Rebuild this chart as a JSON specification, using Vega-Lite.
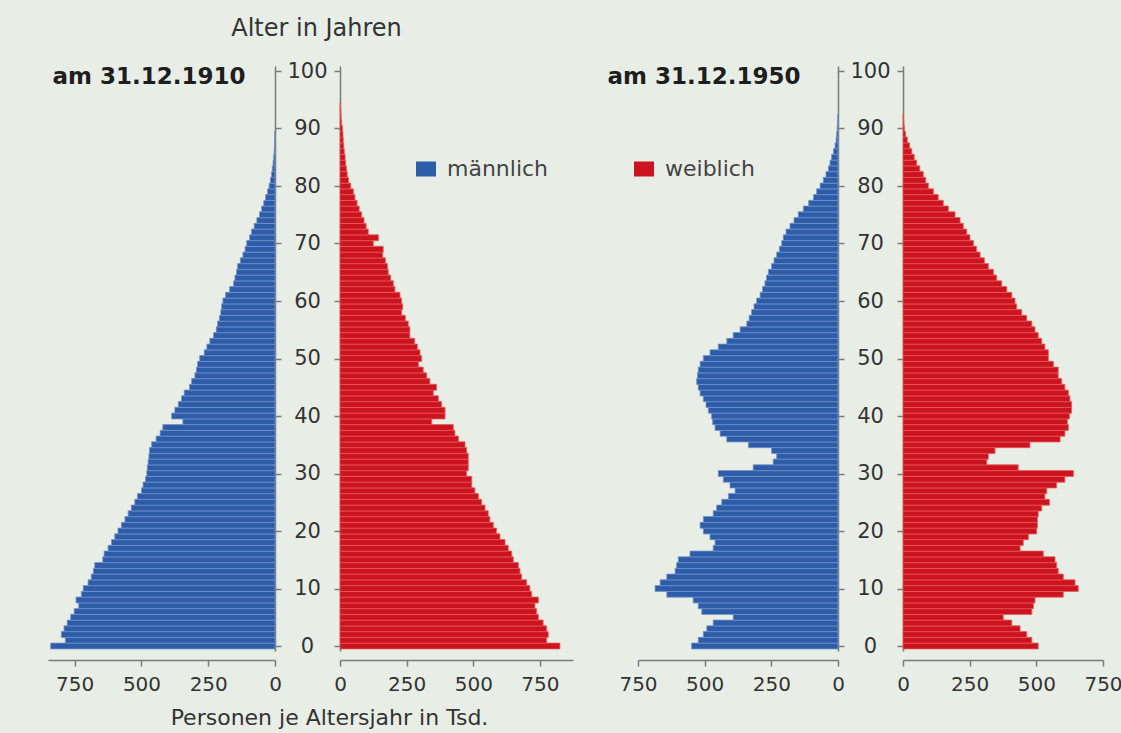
{
  "$schema": "https://vega.github.io/schema/vega-lite/v6.json",
  "background": "#e8eee6",
  "padding": {"left": 48, "top": 16, "right": 0, "bottom": 5},
  "config": {
    "font": "DejaVu Sans",
    "view": {"stroke": null},
    "axis": {"grid": false, "labelFlush": false, "labelOverlap": false, "domainColor": "#7a7a7a", "tickColor": "#7a7a7a", "domainWidth": 1.5, "tickWidth": 1.5, "labelColor": "#333333", "labelFont": "DejaVu Sans", "titleFont": "DejaVu Sans", "labelFontSize": 20},
    "legend": {"orient": "none", "legendX": 367, "legendY": 92, "direction": "horizontal", "symbolType": "M-1,-0.75H1V0.75H-1Z", "symbolSize": 400, "symbolStrokeWidth": 0, "labelFontSize": 22, "labelColor": "#444444", "labelFont": "DejaVu Sans", "labelOffset": 10, "columnPadding": 84, "padding": 0}
  },
  "datasets": {
    "m1910": [
      {"alter":0,"tsd":840},{"alter":1,"tsd":785},{"alter":2,"tsd":800},{"alter":3,"tsd":790},{"alter":4,"tsd":778},{"alter":5,"tsd":765},{"alter":6,"tsd":752},{"alter":7,"tsd":735},{"alter":8,"tsd":745},{"alter":9,"tsd":725},
      {"alter":10,"tsd":718},{"alter":11,"tsd":700},{"alter":12,"tsd":688},{"alter":13,"tsd":680},{"alter":14,"tsd":675},{"alter":15,"tsd":645},{"alter":16,"tsd":640},{"alter":17,"tsd":625},{"alter":18,"tsd":612},{"alter":19,"tsd":600},
      {"alter":20,"tsd":588},{"alter":21,"tsd":575},{"alter":22,"tsd":562},{"alter":23,"tsd":550},{"alter":24,"tsd":538},{"alter":25,"tsd":525},{"alter":26,"tsd":515},{"alter":27,"tsd":500},{"alter":28,"tsd":494},{"alter":29,"tsd":485},
      {"alter":30,"tsd":480},{"alter":31,"tsd":478},{"alter":32,"tsd":475},{"alter":33,"tsd":472},{"alter":34,"tsd":470},{"alter":35,"tsd":462},{"alter":36,"tsd":445},{"alter":37,"tsd":430},{"alter":38,"tsd":420},{"alter":39,"tsd":345},
      {"alter":40,"tsd":387},{"alter":41,"tsd":375},{"alter":42,"tsd":362},{"alter":43,"tsd":350},{"alter":44,"tsd":340},{"alter":45,"tsd":320},{"alter":46,"tsd":312},{"alter":47,"tsd":300},{"alter":48,"tsd":294},{"alter":49,"tsd":290},
      {"alter":50,"tsd":282},{"alter":51,"tsd":265},{"alter":52,"tsd":255},{"alter":53,"tsd":244},{"alter":54,"tsd":230},{"alter":55,"tsd":220},{"alter":56,"tsd":215},{"alter":57,"tsd":208},{"alter":58,"tsd":203},{"alter":59,"tsd":200},
      {"alter":60,"tsd":195},{"alter":61,"tsd":185},{"alter":62,"tsd":170},{"alter":63,"tsd":155},{"alter":64,"tsd":150},{"alter":65,"tsd":144},{"alter":66,"tsd":140},{"alter":67,"tsd":130},{"alter":68,"tsd":120},{"alter":69,"tsd":112},
      {"alter":70,"tsd":106},{"alter":71,"tsd":95},{"alter":72,"tsd":88},{"alter":73,"tsd":78},{"alter":74,"tsd":68},{"alter":75,"tsd":58},{"alter":76,"tsd":50},{"alter":77,"tsd":42},{"alter":78,"tsd":35},{"alter":79,"tsd":28},
      {"alter":80,"tsd":22},{"alter":81,"tsd":17},{"alter":82,"tsd":13},{"alter":83,"tsd":10},{"alter":84,"tsd":7},{"alter":85,"tsd":5},{"alter":86,"tsd":3},{"alter":87,"tsd":2},{"alter":88,"tsd":1},{"alter":89,"tsd":1}
    ],
    "w1910": [
      {"alter":0,"tsd":825},{"alter":1,"tsd":775},{"alter":2,"tsd":781},{"alter":3,"tsd":775},{"alter":4,"tsd":762},{"alter":5,"tsd":744},{"alter":6,"tsd":737},{"alter":7,"tsd":731},{"alter":8,"tsd":744},{"alter":9,"tsd":719},
      {"alter":10,"tsd":712},{"alter":11,"tsd":700},{"alter":12,"tsd":681},{"alter":13,"tsd":675},{"alter":14,"tsd":669},{"alter":15,"tsd":650},{"alter":16,"tsd":644},{"alter":17,"tsd":631},{"alter":18,"tsd":619},{"alter":19,"tsd":600},
      {"alter":20,"tsd":587},{"alter":21,"tsd":575},{"alter":22,"tsd":562},{"alter":23,"tsd":556},{"alter":24,"tsd":544},{"alter":25,"tsd":531},{"alter":26,"tsd":519},{"alter":27,"tsd":506},{"alter":28,"tsd":494},{"alter":29,"tsd":494},
      {"alter":30,"tsd":475},{"alter":31,"tsd":481},{"alter":32,"tsd":481},{"alter":33,"tsd":481},{"alter":34,"tsd":475},{"alter":35,"tsd":469},{"alter":36,"tsd":444},{"alter":37,"tsd":431},{"alter":38,"tsd":425},{"alter":39,"tsd":344},
      {"alter":40,"tsd":394},{"alter":41,"tsd":394},{"alter":42,"tsd":381},{"alter":43,"tsd":369},{"alter":44,"tsd":350},{"alter":45,"tsd":362},{"alter":46,"tsd":337},{"alter":47,"tsd":325},{"alter":48,"tsd":312},{"alter":49,"tsd":294},
      {"alter":50,"tsd":306},{"alter":51,"tsd":300},{"alter":52,"tsd":290},{"alter":53,"tsd":280},{"alter":54,"tsd":262},{"alter":55,"tsd":262},{"alter":56,"tsd":256},{"alter":57,"tsd":245},{"alter":58,"tsd":231},{"alter":59,"tsd":235},
      {"alter":60,"tsd":231},{"alter":61,"tsd":225},{"alter":62,"tsd":206},{"alter":63,"tsd":200},{"alter":64,"tsd":190},{"alter":65,"tsd":181},{"alter":66,"tsd":178},{"alter":67,"tsd":170},{"alter":68,"tsd":160},{"alter":69,"tsd":162},
      {"alter":70,"tsd":125},{"alter":71,"tsd":144},{"alter":72,"tsd":106},{"alter":73,"tsd":98},{"alter":74,"tsd":90},{"alter":75,"tsd":81},{"alter":76,"tsd":72},{"alter":77,"tsd":64},{"alter":78,"tsd":56},{"alter":79,"tsd":50},
      {"alter":80,"tsd":40},{"alter":81,"tsd":32},{"alter":82,"tsd":27},{"alter":83,"tsd":24},{"alter":84,"tsd":21},{"alter":85,"tsd":19},{"alter":86,"tsd":16},{"alter":87,"tsd":14},{"alter":88,"tsd":12},{"alter":89,"tsd":11},
      {"alter":90,"tsd":9},{"alter":91,"tsd":6},{"alter":92,"tsd":4},{"alter":93,"tsd":3},{"alter":94,"tsd":2}
    ],
    "m1950": [
      {"alter":0,"tsd":549},{"alter":1,"tsd":524},{"alter":2,"tsd":505},{"alter":3,"tsd":492},{"alter":4,"tsd":468},{"alter":5,"tsd":393},{"alter":6,"tsd":511},{"alter":7,"tsd":524},{"alter":8,"tsd":543},{"alter":9,"tsd":642},
      {"alter":10,"tsd":686},{"alter":11,"tsd":667},{"alter":12,"tsd":642},{"alter":13,"tsd":611},{"alter":14,"tsd":605},{"alter":15,"tsd":599},{"alter":16,"tsd":555},{"alter":17,"tsd":468},{"alter":18,"tsd":461},{"alter":19,"tsd":480},
      {"alter":20,"tsd":505},{"alter":21,"tsd":517},{"alter":22,"tsd":505},{"alter":23,"tsd":468},{"alter":24,"tsd":455},{"alter":25,"tsd":436},{"alter":26,"tsd":411},{"alter":27,"tsd":386},{"alter":28,"tsd":405},{"alter":29,"tsd":430},
      {"alter":30,"tsd":449},{"alter":31,"tsd":318},{"alter":32,"tsd":243},{"alter":33,"tsd":230},{"alter":34,"tsd":249},{"alter":35,"tsd":336},{"alter":36,"tsd":417},{"alter":37,"tsd":442},{"alter":38,"tsd":461},{"alter":39,"tsd":470},
      {"alter":40,"tsd":474},{"alter":41,"tsd":486},{"alter":42,"tsd":495},{"alter":43,"tsd":505},{"alter":44,"tsd":517},{"alter":45,"tsd":524},{"alter":46,"tsd":530},{"alter":47,"tsd":527},{"alter":48,"tsd":524},{"alter":49,"tsd":517},
      {"alter":50,"tsd":505},{"alter":51,"tsd":480},{"alter":52,"tsd":449},{"alter":53,"tsd":417},{"alter":54,"tsd":393},{"alter":55,"tsd":367},{"alter":56,"tsd":342},{"alter":57,"tsd":333},{"alter":58,"tsd":324},{"alter":59,"tsd":315},
      {"alter":60,"tsd":305},{"alter":61,"tsd":292},{"alter":62,"tsd":283},{"alter":63,"tsd":274},{"alter":64,"tsd":268},{"alter":65,"tsd":261},{"alter":66,"tsd":249},{"alter":67,"tsd":240},{"alter":68,"tsd":230},{"alter":69,"tsd":220},
      {"alter":70,"tsd":211},{"alter":71,"tsd":205},{"alter":72,"tsd":195},{"alter":73,"tsd":180},{"alter":74,"tsd":165},{"alter":75,"tsd":149},{"alter":76,"tsd":130},{"alter":77,"tsd":110},{"alter":78,"tsd":92},{"alter":79,"tsd":80},
      {"alter":80,"tsd":67},{"alter":81,"tsd":55},{"alter":82,"tsd":45},{"alter":83,"tsd":36},{"alter":84,"tsd":30},{"alter":85,"tsd":24},{"alter":86,"tsd":17},{"alter":87,"tsd":11},{"alter":88,"tsd":7},{"alter":89,"tsd":5},
      {"alter":90,"tsd":3},{"alter":91,"tsd":2},{"alter":92,"tsd":1}
    ],
    "w1950": [
      {"alter":0,"tsd":507},{"alter":1,"tsd":483},{"alter":2,"tsd":464},{"alter":3,"tsd":439},{"alter":4,"tsd":408},{"alter":5,"tsd":376},{"alter":6,"tsd":483},{"alter":7,"tsd":489},{"alter":8,"tsd":495},{"alter":9,"tsd":601},
      {"alter":10,"tsd":657},{"alter":11,"tsd":645},{"alter":12,"tsd":601},{"alter":13,"tsd":582},{"alter":14,"tsd":576},{"alter":15,"tsd":570},{"alter":16,"tsd":526},{"alter":17,"tsd":439},{"alter":18,"tsd":451},{"alter":19,"tsd":470},
      {"alter":20,"tsd":501},{"alter":21,"tsd":504},{"alter":22,"tsd":504},{"alter":23,"tsd":507},{"alter":24,"tsd":520},{"alter":25,"tsd":549},{"alter":26,"tsd":532},{"alter":27,"tsd":539},{"alter":28,"tsd":576},{"alter":29,"tsd":607},
      {"alter":30,"tsd":639},{"alter":31,"tsd":432},{"alter":32,"tsd":314},{"alter":33,"tsd":320},{"alter":34,"tsd":345},{"alter":35,"tsd":476},{"alter":36,"tsd":589},{"alter":37,"tsd":607},{"alter":38,"tsd":620},{"alter":39,"tsd":616},
      {"alter":40,"tsd":624},{"alter":41,"tsd":632},{"alter":42,"tsd":632},{"alter":43,"tsd":626},{"alter":44,"tsd":620},{"alter":45,"tsd":607},{"alter":46,"tsd":595},{"alter":47,"tsd":582},{"alter":48,"tsd":582},{"alter":49,"tsd":564},
      {"alter":50,"tsd":545},{"alter":51,"tsd":545},{"alter":52,"tsd":532},{"alter":53,"tsd":520},{"alter":54,"tsd":507},{"alter":55,"tsd":495},{"alter":56,"tsd":483},{"alter":57,"tsd":464},{"alter":58,"tsd":445},{"alter":59,"tsd":426},
      {"alter":60,"tsd":420},{"alter":61,"tsd":408},{"alter":62,"tsd":389},{"alter":63,"tsd":370},{"alter":64,"tsd":351},{"alter":65,"tsd":339},{"alter":66,"tsd":320},{"alter":67,"tsd":305},{"alter":68,"tsd":289},{"alter":69,"tsd":276},
      {"alter":70,"tsd":264},{"alter":71,"tsd":251},{"alter":72,"tsd":239},{"alter":73,"tsd":226},{"alter":74,"tsd":214},{"alter":75,"tsd":195},{"alter":76,"tsd":170},{"alter":77,"tsd":151},{"alter":78,"tsd":132},{"alter":79,"tsd":114},
      {"alter":80,"tsd":95},{"alter":81,"tsd":85},{"alter":82,"tsd":76},{"alter":83,"tsd":63},{"alter":84,"tsd":51},{"alter":85,"tsd":42},{"alter":86,"tsd":33},{"alter":87,"tsd":25},{"alter":88,"tsd":16},{"alter":89,"tsd":10},
      {"alter":90,"tsd":5},{"alter":91,"tsd":3},{"alter":92,"tsd":1}
    ]
  },
  "resolve": {"scale": {"color": "shared", "x": "independent", "y": "independent"}, "legend": {"color": "shared"}},
  "spacing": 65,
  "bounds": "flush",
  "hconcat": [
    {
      "width": 227, "height": 585,
      "data": {"name": "m1910"},
      "mark": {"type": "bar", "orient": "horizontal", "height": 5.85, "stroke": "#7393cc", "strokeWidth": 0.8},
      "encoding": {
        "y": {"field": "alter", "type": "quantitative", "scale": {"domain": [0, 100], "nice": false, "zero": false},
          "axis": {"orient": "right", "values": [0,10,20,30,40,50,60,70,80,90,100], "labels": false, "tickSize": 6, "title": "am 31.12.1910", "titleAngle": 0, "titleX": -223, "titleY": 10, "titleAlign": "left", "titleBaseline": "middle", "titleFontSize": 23, "titleFontWeight": "bold", "titleColor": "#1e1e1e"}},
        "x": {"field": "tsd", "type": "quantitative", "scale": {"domain": [0, 850], "reverse": true, "nice": false, "zero": true},
          "axis": {"values": [0,250,500,750], "offset": 9, "tickSize": 6, "labelPadding": 8, "title": "Personen je Altersjahr in Tsd.", "titleX": 281, "titleY": 57, "titleAlign": "center", "titleBaseline": "middle", "titleFontSize": 22, "titleFontWeight": "normal", "titleColor": "#333333"}},
        "color": {"datum": "männlich", "type": "nominal", "scale": {"domain": ["männlich", "weiblich"], "range": ["#2d5ca8", "#cc1420"]}, "legend": {"title": null}}
      }
    },
    {
      "width": 233, "height": 585,
      "data": {"name": "w1910"},
      "mark": {"type": "bar", "orient": "horizontal", "height": 5.85, "stroke": "#e85a58", "strokeWidth": 0.8},
      "encoding": {
        "y": {"field": "alter", "type": "quantitative", "scale": {"domain": [0, 100], "nice": false, "zero": false},
          "axis": {"orient": "left", "values": [0,10,20,30,40,50,60,70,80,90,100], "tickSize": 6, "labelFontSize": 21, "labelAlign": "center", "labelBaseline": "middle", "labelPadding": 27, "title": "Alter in Jahren", "titleAngle": 0, "titleX": -24, "titleY": -38, "titleAlign": "center", "titleBaseline": "middle", "titleFontSize": 24, "titleFontWeight": "normal", "titleColor": "#333333"}},
        "x": {"field": "tsd", "type": "quantitative", "scale": {"domain": [0, 874], "nice": false, "zero": true},
          "axis": {"values": [0,250,500,750], "offset": 9, "tickSize": 6, "labelPadding": 8, "title": null}},
        "color": {"datum": "weiblich", "type": "nominal", "scale": {"domain": ["männlich", "weiblich"], "range": ["#2d5ca8", "#cc1420"]}, "legend": {"title": null}}
      }
    },
    {
      "width": 200, "height": 585,
      "data": {"name": "m1950"},
      "mark": {"type": "bar", "orient": "horizontal", "height": 5.85, "stroke": "#7393cc", "strokeWidth": 0.8},
      "encoding": {
        "y": {"field": "alter", "type": "quantitative", "scale": {"domain": [0, 100], "nice": false, "zero": false},
          "axis": {"orient": "right", "values": [0,10,20,30,40,50,60,70,80,90,100], "labels": false, "tickSize": 6, "title": "am 31.12.1950", "titleAngle": 0, "titleX": -231, "titleY": 10, "titleAlign": "left", "titleBaseline": "middle", "titleFontSize": 23, "titleFontWeight": "bold", "titleColor": "#1e1e1e"}},
        "x": {"field": "tsd", "type": "quantitative", "scale": {"domain": [0, 750], "reverse": true, "nice": false, "zero": true},
          "axis": {"values": [0,250,500,750], "offset": 9, "tickSize": 6, "labelPadding": 8, "title": null}},
        "color": {"datum": "männlich", "type": "nominal", "scale": {"domain": ["männlich", "weiblich"], "range": ["#2d5ca8", "#cc1420"]}, "legend": {"title": null}}
      }
    },
    {
      "width": 200, "height": 585,
      "data": {"name": "w1950"},
      "mark": {"type": "bar", "orient": "horizontal", "height": 5.85, "stroke": "#e85a58", "strokeWidth": 0.8},
      "encoding": {
        "y": {"field": "alter", "type": "quantitative", "scale": {"domain": [0, 100], "nice": false, "zero": false},
          "axis": {"orient": "left", "values": [0,10,20,30,40,50,60,70,80,90,100], "tickSize": 6, "labelFontSize": 21, "labelAlign": "center", "labelBaseline": "middle", "labelPadding": 27, "title": null}},
        "x": {"field": "tsd", "type": "quantitative", "scale": {"domain": [0, 750], "nice": false, "zero": true},
          "axis": {"values": [0,250,500,750], "offset": 9, "tickSize": 6, "labelPadding": 8, "title": null}},
        "color": {"datum": "weiblich", "type": "nominal", "scale": {"domain": ["männlich", "weiblich"], "range": ["#2d5ca8", "#cc1420"]}, "legend": {"title": null}}
      }
    }
  ]
}
